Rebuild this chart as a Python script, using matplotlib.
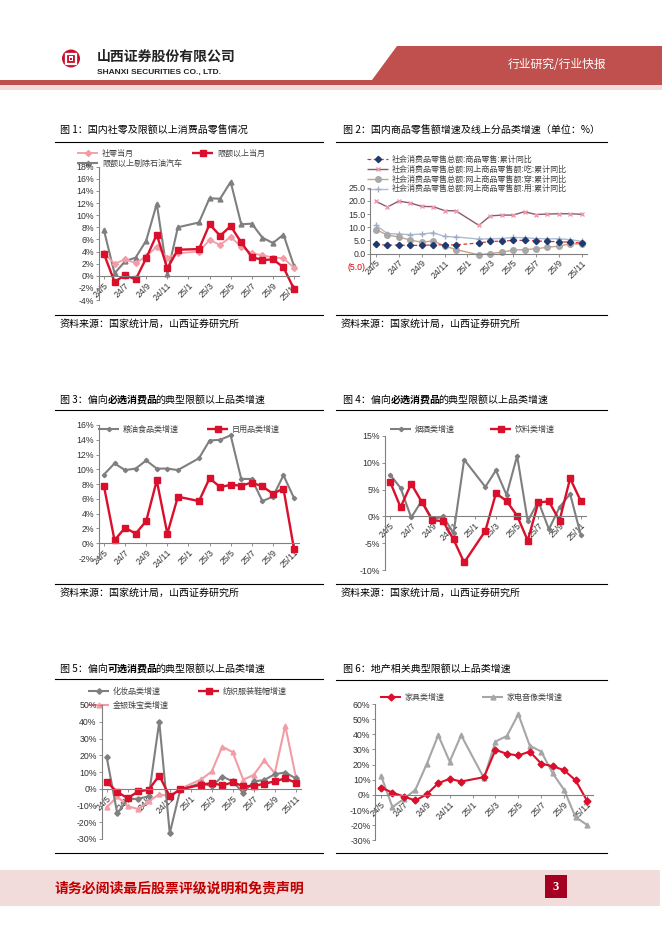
import matplotlib
matplotlib.use("Agg")
import matplotlib.pyplot as plt
from matplotlib.patches import Polygon, Rectangle, Circle

plt.rcParams['font.family'] = ['Liberation Sans', 'Noto Sans CJK SC']
CJK = ['Noto Sans CJK SC', 'DejaVu Sans']

# ---- data (month labels and series, % yoy) ----
months = ['24/5', '24/6', '24/7', '24/8', '24/9', '24/10', '24/11', '24/12', '25/1', '25/2',
          '25/3', '25/4', '25/5', '25/6', '25/7', '25/8', '25/9', '25/10', '25/11']

# fig 1
retail_month = [3.7, 2.0, 2.7, 2.1, 3.2, 4.8, 3.0, 3.7, None, 4.0, 5.9, 5.1, 6.4, 4.8, 3.7, 3.4, 3.0, 2.9, 1.3]
above_quota = [3.6, -1.0, 0.1, -0.6, 2.9, 6.8, 1.2, 4.3, None, 4.4, 8.5, 6.6, 8.2, 5.5, 3.1, 2.6, 2.7, 1.4, -2.2]
above_ex_oil_auto = [7.5, 0.4, 2.4, 3.0, 5.8, 11.9, 0.3, 8.0, None, 8.8, 12.8, 12.7, 15.5, 8.5, 8.6, 6.3, 5.4, 6.8, 1.6]

# fig 2
goods_cum = [3.5, 3.2, 3.2, 3.1, 3.1, 3.3, 3.3, 3.3, None, 4.0, 4.6, 4.7, 5.0, 5.0, 4.8, 4.6, 4.5, 4.3, 4.0]
online_food = [19.8, 17.7, 19.9, 19.2, 17.9, 17.8, 16.3, 16.2, None, 10.7, 14.3, 14.6, 14.6, 15.9, 14.8, 15.0, 15.1, 15.1, 14.9]
online_wear = [9.1, 7.0, 6.3, 5.1, 4.3, 4.8, 2.9, 1.5, None, -0.5, 0.0, 0.5, 1.3, 1.5, 1.8, 2.4, 2.8, 3.7, 3.6]
online_use = [10.7, 7.6, 7.4, 7.2, 7.4, 7.9, 6.5, 6.3, None, 5.5, 5.6, 5.7, 6.1, 6.0, 5.7, 5.6, 5.6, 5.3, 4.6]

# fig 3
grain_oil = [9.3, 10.8, 9.9, 10.1, 11.2, 10.1, 10.1, 9.9, None, 11.5, 13.9, 14.0, 14.6, 8.7, 8.7, 5.7, 6.3, 9.2, 6.1]
daily_use = [7.7, 0.4, 2.1, 1.3, 3.0, 8.5, 1.3, 6.3, None, 5.7, 8.8, 7.6, 7.9, 7.8, 8.2, 7.7, 6.7, 7.4, -0.8]

# fig 4
tobacco_wine = [7.8, 5.3, -0.2, 2.9, -0.6, 0.0, -3.1, 10.6, None, 5.5, 8.6, 4.0, 11.3, -0.9, 2.8, -2.4, 1.7, 4.2, -3.4]
beverage = [6.5, 1.7, 6.1, 2.7, -0.7, -0.9, -4.3, -8.6, None, -2.7, 4.3, 2.9, 0.1, -4.5, 2.6, 2.8, -0.8, 7.1, 2.9]

# fig 5
cosmetics = [18.7, -14.7, -6.1, -6.0, -4.5, 40.1, -26.6, -0.6, None, 3.4, 1.4, 7.3, 4.4, -2.5, 4.4, 5.2, 8.7, 9.7, 6.2]
textile = [4.2, -2.0, -5.6, -1.6, -0.6, 7.9, -4.6, -0.4, None, 2.4, 3.4, 2.0, 3.8, 1.6, 1.6, 3.0, 4.4, 6.2, 3.6]
jewelry = [-11.1, -4.6, -10.5, -12.1, -7.5, -3.2, -4.6, 0.0, None, 5.6, 10.3, 25.2, 21.8, 5.4, 8.3, 16.9, 9.3, 37.7, 7.3]

# fig 6
furniture = [4.8, 1.5, -1.1, -3.7, 0.4, 7.7, 10.6, 8.8, None, 11.7, 29.7, 27.1, 26.0, 28.6, 20.6, 18.9, 16.3, 9.6, -3.8]
appliance = [12.7, -8.1, -2.6, 3.3, 20.4, 39.4, 22.0, 39.4, None, 11.0, 35.2, 38.9, 53.2, 32.5, 28.6, 14.3, 3.3, -14.7, -19.8]

RED = '#da0f2b'
GRAY = '#7f7f7f'
PINK = '#f29ca6'
HDR = '#c0504d'
TXT = '#333333'

W, H = 662, 936
fig = plt.figure(figsize=(W / 100, H / 100), dpi=100)
bg = fig.add_axes([0, 0, 1, 1])
bg.set_xlim(0, W)
bg.set_ylim(H, 0)
bg.axis('off')

# ---- header ----
bg.add_patch(Polygon([(397, 46), (662, 46), (662, 85), (372, 85), (372, 80)], closed=True, color=HDR, lw=0))
bg.add_patch(Rectangle((0, 80), W, 5, color=HDR, lw=0))
bg.add_patch(Rectangle((0, 85), W, 5, color='#f2dcdb', lw=0))
bg.add_patch(Circle((71, 58.5), 9, color='#c8102e', lw=0))
bg.add_patch(Rectangle((66, 53.5), 10, 10, fill=False, ec='white', lw=1.6))
bg.add_patch(Rectangle((68.8, 56.3), 4.4, 4.4, color='white', lw=0))
bg.add_patch(Rectangle((70, 57.5), 2, 2, color='#c8102e', lw=0))
bg.text(97, 57, '山西证券股份有限公司', fontsize=10, fontweight='bold', family=CJK, va='center', color='#222222')
bg.text(97, 72.5, 'SHANXI SECURITIES CO., LTD.', fontsize=6, fontweight='bold', va='center', color='#222222')
bg.text(557, 65, '行业研究/行业快报', fontsize=8.5, family=CJK, color='white', va='center', ha='center')

# ---- footer ----
bg.add_patch(Rectangle((0, 870), 660, 36, color='#f2dcdb', lw=0))
bg.text(55, 888, '请务必阅读最后股票评级说明和免责声明', fontsize=10, fontweight='bold', family=CJK,
        color='#c00000', va='center')
bg.add_patch(Rectangle((545, 875), 22, 23, color='#a50021', lw=0))
bg.text(556, 887, '3', fontsize=9, fontweight='bold', color='white', ha='center', va='center', family='Liberation Serif')


def title(x, y, parts):
    t = None
    prev_bold = False
    for txt, bold in parts:
        w = 'bold' if bold else 'normal'
        if t is None:
            t = bg.text(x, y, txt, fontsize=7.2, family=CJK, fontweight=w, va='center', color='black')
        else:
            t = bg.annotate(txt, xy=(1, 0), xycoords=t, xytext=(-3 if prev_bold else 0, 0),
                            textcoords='offset pixels', fontsize=7.2, family=CJK, fontweight=w,
                            va='bottom', ha='left', color='black')
        prev_bold = bold


def frame(x0, x1, ytop, ybot, src_y=None):
    bg.plot([x0, x1], [ytop, ytop], color='black', lw=0.8)
    bg.plot([x0, x1], [ybot, ybot], color='black', lw=0.8)
    if src_y is not None:
        bg.text(x0 + 5, src_y, '资料来源：国家统计局，山西证券研究所', fontsize=7.2, family=CJK, va='center', color='black')


def key(x, y, label, color, marker, ms, lw, mfc=None, ls='-', mew=1, width=21):
    bg.plot([x, x + width], [y, y], color=color, lw=lw, ls=ls, solid_capstyle='butt')
    bg.plot([x + width / 2], [y], marker=marker, ms=ms, mfc=mfc or color, mec=mfc or color, mew=mew, ls='none')
    bg.text(x + width + 4, y, label, fontsize=5.8, family=CJK, va='center', ha='left', color='#404040')


def chart(l, t, r, b, ylim, yticks, labels):
    ax = fig.add_axes([l / W, 1 - b / H, (r - l) / W, (b - t) / H])
    ax.patch.set_visible(False)
    ax.set_xlim(-0.5, len(months) - 0.5)
    ax.set_ylim(*ylim)
    ax.spines[['top', 'right']].set_visible(False)
    ax.spines['bottom'].set_position(('data', 0))
    for s in ['left', 'bottom']:
        ax.spines[s].set_color('#808080')
        ax.spines[s].set_linewidth(0.8)
    ax.set_yticks(yticks)
    ax.set_yticklabels(labels)
    ax.set_xticks(range(0, len(months), 2))
    ax.set_xticklabels(months[::2], rotation=45, ha='right', va='top', rotation_mode='anchor')
    ax.tick_params(labelsize=6.3, length=2, width=0.6, color='#808080', pad=1.5, labelcolor=TXT)
    return ax


def series(ax, vals, **kw):
    xs = [i for i, v in enumerate(vals) if v is not None]
    ys = [v for v in vals if v is not None]
    ax.plot(xs, ys, **kw)


def pct(vs):
    return ['%d%%' % v for v in vs]


# ---- fig 1 ----
title(60, 131, [('图 1：国内社零及限额以上消费品零售情况', False)])
frame(55, 323, 141.5, 315, 324)
t1 = list(range(-4, 19, 2))
ax1 = chart(98.7, 166.7, 299.3, 300, (-4, 18), t1, pct(t1))
series(ax1, above_ex_oil_auto, color=GRAY, lw=1.5, marker='^', ms=3.5)
series(ax1, retail_month, color=PINK, lw=1.3, marker='D', ms=3)
series(ax1, above_quota, color=RED, lw=1.7, marker='s', ms=4.3)
key(77, 153, '社零当月', PINK, 'D', 3, 1.3)
key(192, 153, '限额以上当月', RED, 's', 4.3, 1.7)
key(77, 163, '限额以上剔除石油汽车', GRAY, '^', 3.5, 1.5)

# ---- fig 2 ----
title(343, 131, [('图 2：国内商品零售额增速及线上分品类增速（单位：%）', False)])
frame(336, 607, 141.5, 315, 324)
t2 = list(range(-5, 26, 5))
ax2 = chart(370.3, 187.7, 587.4, 266.7, (-5, 25), t2,
            ['(%.1f)' % -v if v < 0 else '%.1f' % v for v in t2])
for lab, v in zip(ax2.get_yticklabels(), t2):
    if v < 0:
        lab.set_color('#e00000')
series(ax2, online_food, color='#8c5a6e', lw=1.0, marker='x', ms=3.5, mec='#ec9aab', mew=1.0)
series(ax2, online_use, color='#aebbd0', lw=1.0, marker='+', ms=4, mec='#9eadc4', mew=1.0)
series(ax2, online_wear, color='#c9a283', lw=1.0, marker='o', ms=4, mfc='#a8a8a8', mec='#a8a8a8')
series(ax2, goods_cum, color='#e03030', lw=0.9, ls=(0, (3, 2)), marker='D', ms=3.2, mfc='#1f3a6e', mec='#1f3a6e')
key(367, 159, '社会消费品零售总额:商品零售:累计同比', '#e03030', 'D', 3.2, 0.9, mfc='#1f3a6e', ls=(0, (3, 2)))
key(367, 169, '社会消费品零售总额:网上商品零售额:吃:累计同比', '#8c5a6e', 'x', 3.5, 1.0, mfc='#ec9aab')
key(367, 179, '社会消费品零售总额:网上商品零售额:穿:累计同比', '#c9a283', 'o', 4, 1.0, mfc='#a8a8a8')
key(367, 188.5, '社会消费品零售总额:网上商品零售额:用:累计同比', '#aebbd0', '+', 4, 1.0, mfc='#9eadc4')

# ---- fig 3 ----
title(60, 400, [('图 3：偏向', False), ('必选消费品', True), ('的典型限额以上品类增速', False)])
frame(55, 323, 410, 584, 593)
t3 = list(range(-2, 17, 2))
ax3 = chart(98.7, 425, 299.3, 558, (-2, 16), t3, pct(t3))
series(ax3, grain_oil, color=GRAY, lw=1.5, marker='D', ms=2.2)
series(ax3, daily_use, color=RED, lw=1.7, marker='s', ms=4.3)
key(98, 429, '粮油食品类增速', GRAY, 'D', 2.2, 1.5)
key(207, 429, '日用品类增速', RED, 's', 4.3, 1.7)

# ---- fig 4 ----
title(343, 400, [('图 4：偏向', False), ('必选消费品', True), ('的典型限额以上品类增速', False)])
frame(336, 607, 410, 584, 593)
t4 = list(range(-10, 16, 5))
ax4 = chart(384.7, 436, 586, 570, (-10, 15), t4, pct(t4))
series(ax4, tobacco_wine, color=GRAY, lw=1.5, marker='D', ms=2.2)
series(ax4, beverage, color=RED, lw=1.7, marker='s', ms=4.3)
key(390, 429, '烟酒类增速', GRAY, 'D', 2.2, 1.5)
key(490, 429, '饮料类增速', RED, 's', 4.3, 1.7)

# ---- fig 5 ----
title(60, 669, [('图 5：偏向', False), ('可选消费品', True), ('的典型限额以上品类增速', False)])
frame(55, 323, 679, 853)
t5 = list(range(-30, 51, 10))
ax5 = chart(101.5, 705, 301, 839, (-30, 50), t5, pct(t5))
series(ax5, jewelry, color=PINK, lw=1.5, marker='^', ms=3.5)
series(ax5, cosmetics, color=GRAY, lw=1.5, marker='D', ms=2.8)
series(ax5, textile, color=RED, lw=1.7, marker='s', ms=4.3)
key(88, 691, '化妆品类增速', GRAY, 'D', 2.8, 1.5)
key(198, 691, '纺织服装鞋帽增速', RED, 's', 4.3, 1.7)
key(88, 705, '金银珠宝类增速', PINK, '^', 3.5, 1.5)

# ---- fig 6 ----
title(343, 669, [('图 6：地产相关典型限额以上品类增速', False)])
frame(336, 607, 680, 853)
t6 = list(range(-30, 61, 10))
ax6 = chart(375.3, 704, 592.7, 840.3, (-30, 60), t6, pct(t6))
series(ax6, appliance, color='#a6a6a6', lw=1.5, marker='^', ms=3.5)
series(ax6, furniture, color=RED, lw=1.5, marker='D', ms=3.5)
key(380, 697, '家具类增速', RED, 'D', 3.5, 1.5)
key(482, 697, '家电音像类增速', '#a6a6a6', '^', 3.5, 1.5)

fig.savefig('out.png', dpi=100)
